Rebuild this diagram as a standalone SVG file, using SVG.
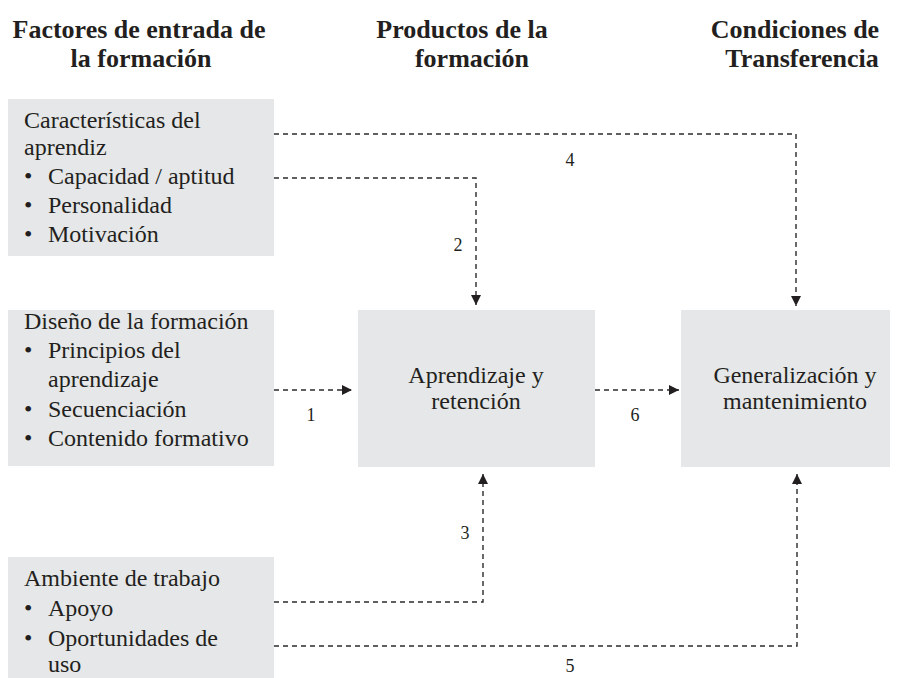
<svg xmlns="http://www.w3.org/2000/svg" width="901" height="678" viewBox="0 0 901 678">
<style>
.box{fill:#e6e7e8;}
.ln{fill:none;stroke:#2b2b2b;stroke-width:1.4;stroke-dasharray:5,4;}
</style>
<defs>
<marker id="ah" markerUnits="userSpaceOnUse" markerWidth="12" markerHeight="12" viewBox="0 0 12 12" refX="11" refY="6" orient="auto">
<path d="M1,1 L11,6 L1,11 Z" fill="#231f20"/>
</marker>
</defs>
<g id="headers">
<text style="font-family:'Times New Roman','Liberation Serif',serif" font-family="Times New Roman" font-size="26" font-weight="bold" fill="#231f20" text-anchor="middle" x="139" y="38">Factores de entrada de</text>
<text style="font-family:'Times New Roman','Liberation Serif',serif" font-family="Times New Roman" font-size="26" font-weight="bold" fill="#231f20" text-anchor="middle" x="141" y="67">la formación</text>
<text style="font-family:'Times New Roman','Liberation Serif',serif" font-family="Times New Roman" font-size="26" font-weight="bold" fill="#231f20" text-anchor="middle" x="462" y="38">Productos de la</text>
<text style="font-family:'Times New Roman','Liberation Serif',serif" font-family="Times New Roman" font-size="26" font-weight="bold" fill="#231f20" text-anchor="middle" x="472" y="67">formación</text>
<text style="font-family:'Times New Roman','Liberation Serif',serif" font-family="Times New Roman" font-size="26" font-weight="bold" fill="#231f20" text-anchor="middle" x="795" y="38">Condiciones de</text>
<text style="font-family:'Times New Roman','Liberation Serif',serif" font-family="Times New Roman" font-size="26" font-weight="bold" fill="#231f20" text-anchor="middle" x="802" y="67">Transferencia</text>
</g>
<g id="connectors">
<path class="ln" d="M274,134 H796 V306" marker-end="url(#ah)"/>
<path class="ln" d="M274,178 H476 V305" marker-end="url(#ah)"/>
<path class="ln" d="M274,390 H352" marker-end="url(#ah)"/>
<path class="ln" d="M595,390 H679" marker-end="url(#ah)"/>
<path class="ln" d="M274,602 H483 V474" marker-end="url(#ah)"/>
<path class="ln" d="M274,646 H797 V474" marker-end="url(#ah)"/>
<text style="font-family:'Times New Roman','Liberation Serif',serif" font-family="Times New Roman" font-size="18" fill="#231f20" text-anchor="middle" x="570" y="166">4</text>
<text style="font-family:'Times New Roman','Liberation Serif',serif" font-family="Times New Roman" font-size="18" fill="#231f20" text-anchor="middle" x="458" y="251">2</text>
<text style="font-family:'Times New Roman','Liberation Serif',serif" font-family="Times New Roman" font-size="18" fill="#231f20" text-anchor="middle" x="311" y="421">1</text>
<text style="font-family:'Times New Roman','Liberation Serif',serif" font-family="Times New Roman" font-size="18" fill="#231f20" text-anchor="middle" x="635" y="421">6</text>
<text style="font-family:'Times New Roman','Liberation Serif',serif" font-family="Times New Roman" font-size="18" fill="#231f20" text-anchor="middle" x="465" y="539">3</text>
<text style="font-family:'Times New Roman','Liberation Serif',serif" font-family="Times New Roman" font-size="18" fill="#231f20" text-anchor="middle" x="570" y="672">5</text>
</g>
<g id="caracteristicas">
<rect class="box" x="8" y="99" width="266" height="157"/>
<text style="font-family:'Times New Roman','Liberation Serif',serif" font-family="Times New Roman" font-size="24" fill="#231f20" x="24" y="128">Características del</text>
<text style="font-family:'Times New Roman','Liberation Serif',serif" font-family="Times New Roman" font-size="24" fill="#231f20" x="24" y="155">aprendiz</text>
<text style="font-family:'Times New Roman','Liberation Serif',serif" font-family="Times New Roman" font-size="24" fill="#231f20" x="24" y="184">•</text>
<text style="font-family:'Times New Roman','Liberation Serif',serif" font-family="Times New Roman" font-size="24" fill="#231f20" x="48" y="184">Capacidad / aptitud</text>
<text style="font-family:'Times New Roman','Liberation Serif',serif" font-family="Times New Roman" font-size="24" fill="#231f20" x="24" y="213">•</text>
<text style="font-family:'Times New Roman','Liberation Serif',serif" font-family="Times New Roman" font-size="24" fill="#231f20" x="48" y="213">Personalidad</text>
<text style="font-family:'Times New Roman','Liberation Serif',serif" font-family="Times New Roman" font-size="24" fill="#231f20" x="24" y="242">•</text>
<text style="font-family:'Times New Roman','Liberation Serif',serif" font-family="Times New Roman" font-size="24" fill="#231f20" x="48" y="242">Motivación</text>
</g>
<g id="diseno">
<rect class="box" x="8" y="310" width="266" height="156"/>
<text style="font-family:'Times New Roman','Liberation Serif',serif" font-family="Times New Roman" font-size="24" fill="#231f20" x="24" y="329">Diseño de la formación</text>
<text style="font-family:'Times New Roman','Liberation Serif',serif" font-family="Times New Roman" font-size="24" fill="#231f20" x="24" y="358">•</text>
<text style="font-family:'Times New Roman','Liberation Serif',serif" font-family="Times New Roman" font-size="24" fill="#231f20" x="48" y="358">Principios del</text>
<text style="font-family:'Times New Roman','Liberation Serif',serif" font-family="Times New Roman" font-size="24" fill="#231f20" x="48" y="387">aprendizaje</text>
<text style="font-family:'Times New Roman','Liberation Serif',serif" font-family="Times New Roman" font-size="24" fill="#231f20" x="24" y="417">•</text>
<text style="font-family:'Times New Roman','Liberation Serif',serif" font-family="Times New Roman" font-size="24" fill="#231f20" x="48" y="417">Secuenciación</text>
<text style="font-family:'Times New Roman','Liberation Serif',serif" font-family="Times New Roman" font-size="24" fill="#231f20" x="24" y="446">•</text>
<text style="font-family:'Times New Roman','Liberation Serif',serif" font-family="Times New Roman" font-size="24" fill="#231f20" x="48" y="446">Contenido formativo</text>
</g>
<g id="ambiente">
<rect class="box" x="8" y="557" width="266" height="121"/>
<text style="font-family:'Times New Roman','Liberation Serif',serif" font-family="Times New Roman" font-size="24" fill="#231f20" x="24" y="586">Ambiente de trabajo</text>
<text style="font-family:'Times New Roman','Liberation Serif',serif" font-family="Times New Roman" font-size="24" fill="#231f20" x="24" y="616">•</text>
<text style="font-family:'Times New Roman','Liberation Serif',serif" font-family="Times New Roman" font-size="24" fill="#231f20" x="48" y="616">Apoyo</text>
<text style="font-family:'Times New Roman','Liberation Serif',serif" font-family="Times New Roman" font-size="24" fill="#231f20" x="24" y="646">•</text>
<text style="font-family:'Times New Roman','Liberation Serif',serif" font-family="Times New Roman" font-size="24" fill="#231f20" x="48" y="646">Oportunidades de</text>
<text style="font-family:'Times New Roman','Liberation Serif',serif" font-family="Times New Roman" font-size="24" fill="#231f20" x="48" y="672">uso</text>
</g>
<g id="aprendizaje">
<rect class="box" x="358" y="310" width="237" height="157"/>
<text style="font-family:'Times New Roman','Liberation Serif',serif" font-family="Times New Roman" font-size="24" fill="#231f20" text-anchor="middle" x="476" y="383">Aprendizaje y</text>
<text style="font-family:'Times New Roman','Liberation Serif',serif" font-family="Times New Roman" font-size="24" fill="#231f20" text-anchor="middle" x="476" y="409">retención</text>
</g>
<g id="generalizacion">
<rect class="box" x="681" y="310" width="209" height="157"/>
<text style="font-family:'Times New Roman','Liberation Serif',serif" font-family="Times New Roman" font-size="24" fill="#231f20" text-anchor="middle" x="795" y="383">Generalización y</text>
<text style="font-family:'Times New Roman','Liberation Serif',serif" font-family="Times New Roman" font-size="24" fill="#231f20" text-anchor="middle" x="795" y="409">mantenimiento</text>
</g>
</svg>
